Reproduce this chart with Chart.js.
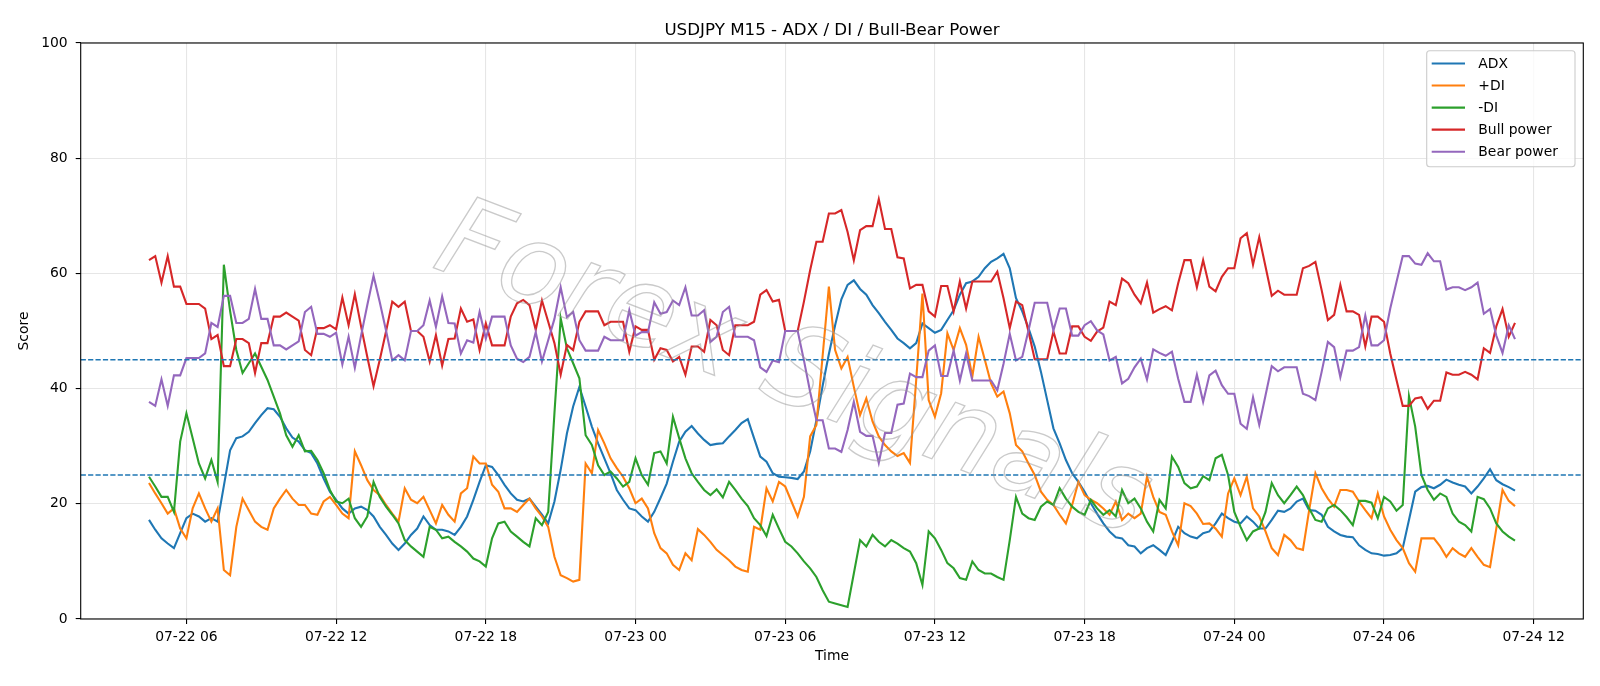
<!DOCTYPE html>
<html>
<head>
<meta charset="utf-8">
<script src="https://cdn.jsdelivr.net/npm/chart.js@4.4.1/dist/chart.umd.min.js"></script>
<style>
  html, body { margin: 0; padding: 0; background: #fff; }
  #wrap { width: 1600px; height: 686px; position: relative; }
</style>
</head>
<body>
<div id="wrap"><canvas id="chart"></canvas></div>
<script>
// M15 bars, first bar 07-22 04:30 (hours counted from 07-22 00:00)
const startHour = 4.5;
const stepHours = 0.25;

const adx = [17.2,15.5,14.0,13.1,12.3,14.9,17.5,18.3,17.8,16.9, 17.5,16.9,23.1,29.3,31.4,31.7,32.5,34.0,35.4,36.6,
  36.4,35.1,33.1,31.5,30.8,29.3,28.8,27.0,24.4,22.1, 20.7,19.2,18.3,19.2,19.5,18.9,17.8,16.0,14.6,13.1,
  12.0,13.1,14.6,15.7,17.8,16.3,15.5,15.5,15.2,14.6, 16.0,17.8,20.7,23.8,26.7,26.4,25.0,23.3,21.8,20.7,
  20.4,20.9,19.5,18.1,16.6,20.4,25.9,32.2,36.9,40.3, 36.9,33.4,30.5,27.9,25.3,22.4,20.7,19.2,18.9,17.8,
  16.9,18.6,21.0,23.5,27.3,30.8,32.5,33.5,32.2,31.1, 30.2,30.4,30.5,31.7,32.8,34.0,34.7,31.4,28.2,27.3,
  25.3,24.7,24.6,24.5,24.3,25.6,29.1,34.5,40.5,46.0, 51.0,55.5,58.0,58.8,57.3,56.3,54.5,53.1,51.6,50.2,
  48.7,47.9,47.0,47.9,51.3,50.5,49.7,50.2,51.9,53.6, 56.3,58.3,58.6,59.4,60.9,62.0,62.6,63.4,60.9,55.7,
  53.4,50.5,47.3,42.9,38.0,33.1,30.5,27.6,25.3,23.8, 22.1,20.1,18.3,16.6,15.2,14.2,14.0,12.8,12.6,11.4,
  12.3,12.8,12.0,11.1,13.4,16.0,14.9,14.3,14.0,14.9, 15.2,16.6,18.3,17.5,16.9,16.6,17.8,16.9,15.7,15.7,
  17.2,18.8,18.6,19.2,20.4,20.9,18.9,18.8,18.1,16.0, 15.2,14.6,14.3,14.2,12.8,12.0,11.4,11.3,11.0,11.1,
  11.4,12.3,17.2,22.1,22.9,23.1,22.7,23.3,24.2,23.7, 23.3,23.0,21.8,23.0,24.4,26.0,24.1,23.4,22.9,22.3];

const plusDi = [23.6,21.8,20.1,18.3,19.2,15.7,14.0,19.2,21.8,19.2, 16.9,19.2,8.5,7.6,16.0,20.9,18.9,16.9,16.0,15.5,
  19.2,20.9,22.4,20.9,19.8,19.8,18.3,18.1,20.4,21.2, 19.8,18.3,17.5,29.1,26.7,24.1,22.4,21.5,19.8,18.3,
  16.9,22.7,20.7,20.1,21.2,18.9,16.6,19.8,18.1,16.9, 21.8,22.7,28.2,27.0,27.0,23.3,22.1,19.2,19.2,18.6,
  19.8,20.9,19.2,17.8,16.0,10.8,7.6,7.1,6.5,6.8, 27.0,25.3,32.8,30.5,27.9,26.2,24.7,22.7,20.1,20.9,
  19.2,14.9,12.3,11.4,9.4,8.5,11.4,10.2,15.6,14.6, 13.4,12.0,11.1,10.2,9.1,8.5,8.2,16.0,15.5,22.7,
  20.4,23.8,23.0,20.4,17.8,21.2,31.7,33.7,45.7,57.7, 46.7,43.5,45.5,40.3,35.4,38.3,34.3,31.7,30.2,29.1,
  28.3,28.8,27.1,41.5,56.5,38.0,35.1,39.2,49.6,46.7, 50.5,47.6,42.1,49.0,45.0,40.9,38.6,39.5,35.7,30.2,
  29.1,27.0,25.0,22.1,20.7,19.8,18.1,16.6,19.8,23.8, 21.5,20.7,20.1,19.2,18.1,20.4,17.2,18.3,17.5,18.3,
  24.7,21.2,18.6,18.1,15.2,12.8,20.1,19.6,18.3,16.5, 16.6,15.7,14.3,21.8,24.4,21.5,24.7,19.2,17.8,15.2,
  12.3,11.1,14.6,13.7,12.3,12.0,18.9,25.3,22.7,20.9, 19.5,22.4,22.4,22.1,20.4,18.9,17.5,21.8,17.8,15.5,
  13.7,12.3,9.7,8.2,14.0,14.0,14.0,12.6,10.8,12.3, 11.4,10.8,12.3,10.8,9.4,9.0,15.7,22.4,20.5,19.6];

const minusDi = [24.7,23.0,21.2,21.2,18.6,30.8,35.7,31.4,27.0,24.4, 27.6,23.8,61.5,53.5,46.7,42.7,44.4,46.1,43.8,41.5,
  38.6,35.7,31.9,29.9,31.9,29.1,29.2,27.6,25.3,22.4, 20.4,20.1,20.9,17.5,16.0,17.8,23.8,21.2,19.5,18.1,
  16.6,13.7,12.6,11.7,10.8,16.0,15.5,14.0,14.3,13.4, 12.6,11.7,10.5,10.0,9.1,14.0,16.6,16.9,15.2,14.3,
  13.4,12.6,17.5,16.3,18.6,35.7,52.2,47.0,44.4,41.8, 31.9,30.2,26.7,25.0,25.6,24.4,23.0,23.8,27.9,25.0,
  23.3,28.8,29.1,27.0,35.1,31.4,27.9,25.3,23.8,22.4, 21.5,22.5,21.1,23.8,22.4,20.9,19.6,17.5,16.3,14.4,
  18.1,15.7,13.4,12.6,11.4,10.0,8.8,7.3,5.0,3.0, 2.7,2.4,2.1,7.9,13.7,12.6,14.6,13.4,12.6,13.7,
  13.1,12.3,11.7,9.7,5.9,15.2,14.0,12.0,9.7,8.8, 7.1,6.8,10.0,8.5,7.9,7.9,7.3,6.8,13.7,21.2,
  18.3,17.5,17.2,19.5,20.4,19.8,22.7,20.9,19.5,18.6, 18.1,20.7,19.2,18.1,18.9,17.8,22.4,20.1,20.9,19.2,
  16.9,15.2,20.7,19.2,28.2,26.4,23.6,22.7,23.0,24.8, 24.1,27.9,28.5,25.0,18.6,16.0,13.7,15.2,15.7,18.6,
  23.6,21.5,20.1,21.5,23.0,21.5,19.2,17.2,16.9,19.2, 19.8,18.9,17.7,16.3,20.5,20.5,20.2,17.5,21.2,20.4,
  18.8,19.8,38.7,33.4,25.0,22.4,20.7,21.8,21.2,18.3, 16.9,16.3,15.2,21.2,20.8,19.2,16.6,15.2,14.3,13.6];

const bullPower = [62.3,63.0,58.4,63.0,57.7,57.7,54.7,54.7,54.7,53.9, 48.6,49.3,43.9,43.9,48.6,48.6,47.9,42.7,47.9,47.9,
  52.5,52.5,53.2,52.5,51.8,46.7,45.8,50.5,50.5,51.0, 50.3,55.8,51.0,56.4,50.8,45.5,40.4,45.0,49.9,55.1,
  54.2,55.1,50.0,50.0,49.0,44.7,49.3,44.0,48.6,48.7, 53.9,51.6,52.0,46.7,51.3,47.5,47.5,47.5,52.5,54.8,
  55.4,54.5,50.2,55.3,51.6,47.9,42.4,47.6,46.7,51.6, 53.4,53.4,53.4,51.0,51.6,51.6,51.6,46.4,50.8,50.2,
  50.2,45.0,47.0,46.7,44.7,45.5,42.4,47.3,47.3,46.4, 51.9,51.0,46.7,45.8,51.0,51.0,51.0,51.6,56.3,57.1,
  55.1,55.4,50.0,50.0,50.0,55.1,60.6,65.5,65.5,70.4, 70.4,71.0,67.2,62.3,67.5,68.2,68.2,72.9,67.7,67.7,
  62.8,62.6,57.4,58.0,58.0,53.4,52.5,57.8,57.8,53.4, 58.6,53.9,58.6,58.6,58.6,58.6,60.3,55.7,50.5,55.1,
  54.5,49.9,45.1,45.1,45.1,49.9,46.1,46.1,50.8,50.8, 49.0,48.3,49.9,50.6,55.1,54.5,59.1,58.3,56.3,54.8,
  58.4,53.2,53.8,54.3,53.6,58.3,62.3,62.3,57.6,62.3, 57.7,56.9,59.4,60.9,60.9,66.1,67.0,61.5,66.3,61.2,
  56.1,57.0,56.3,56.3,56.3,60.9,61.3,62.0,57.1,51.9, 52.8,58.0,53.4,53.4,52.8,47.3,52.5,52.5,51.6,46.1,
  41.5,37.0,37.0,38.3,38.5,36.5,37.9,37.9,42.8,42.4, 42.4,42.9,42.4,41.6,47.0,46.2,50.8,53.8,49.0,51.4];

const bearPower = [37.7,37.0,41.6,37.0,42.3,42.3,45.3,45.3,45.3,46.1, 51.4,50.7,56.1,56.1,51.4,51.4,52.1,57.3,52.1,52.1,
  47.5,47.5,46.8,47.5,48.2,53.3,54.2,49.5,49.5,49.0, 49.7,44.2,49.0,43.6,49.2,54.5,59.6,55.0,50.1,44.9,
  45.8,44.9,50.0,50.0,51.0,55.3,50.7,56.0,51.4,51.3, 46.1,48.4,48.0,53.3,48.7,52.5,52.5,52.5,47.5,45.2,
  44.6,45.5,49.8,44.7,48.4,52.1,57.6,52.4,53.3,48.4, 46.6,46.6,46.6,49.0,48.4,48.4,48.4,53.6,49.2,49.8,
  49.8,55.0,53.0,53.3,55.3,54.5,57.6,52.7,52.7,53.6, 48.1,49.0,53.3,54.2,49.0,49.0,49.0,48.4,43.7,42.9,
  44.9,44.6,50.0,50.0,50.0,44.9,39.4,34.5,34.5,29.6, 29.6,29.0,32.8,37.7,32.5,31.8,31.8,27.1,32.3,32.3,
  37.2,37.4,42.6,42.0,42.0,46.6,47.5,42.2,42.2,46.6, 41.4,46.1,41.4,41.4,41.4,41.4,39.7,44.3,49.5,44.9,
  45.5,50.1,54.9,54.9,54.9,50.1,53.9,53.9,49.2,49.2, 51.0,51.7,50.1,49.4,44.9,45.5,40.9,41.7,43.7,45.2,
  41.6,46.8,46.2,45.7,46.4,41.7,37.7,37.7,42.4,37.7, 42.3,43.1,40.6,39.1,39.1,33.9,33.0,38.5,33.7,38.8,
  43.9,43.0,43.7,43.7,43.7,39.1,38.7,38.0,42.9,48.1, 47.2,42.0,46.6,46.6,47.2,52.7,47.5,47.5,48.4,53.9,
  58.5,63.0,63.0,61.7,61.5,63.5,62.1,62.1,57.2,57.6, 57.6,57.1,57.6,58.4,53.0,53.8,49.2,46.2,51.0,48.6];

const tickHours = [6, 12, 18, 24, 30, 36, 42, 48, 54, 60];
const tickLabels = ['07-22 06', '07-22 12', '07-22 18', '07-23 00', '07-23 06',
  '07-23 12', '07-23 18', '07-24 00', '07-24 06', '07-24 12'];
const levels = [45, 25];
const seriesNames = ['ADX', '+DI', '-DI', 'Bull power', 'Bear power'];
const seriesColors = ['#1f77b4', '#ff7f0e', '#2ca02c', '#d62728', '#9467bd'];
const seriesValues = [adx, plusDi, minusDi, bullPower, bearPower];

const FONT = 'DejaVu Sans';
Chart.defaults.font.family = FONT;
Chart.defaults.color = '#000';

// matplotlib-like margins: 5% of the time span on each side
const lastHour = startHour + (adx.length - 1) * stepHours;
const span = lastHour - startHour;
const xMin = startHour - span * 0.05;
const xMax = lastHour + span * 0.05;

const datasets = seriesValues.map((vals, k) => ({
  label: seriesNames[k],
  data: vals.map((v, i) => ({ x: startHour + i * stepHours, y: v })),
  borderColor: seriesColors[k],
  backgroundColor: seriesColors[k],
  borderWidth: 2.1,
  pointRadius: 0,
  tension: 0,
  fill: false,
  order: 5 - k
}));

const decor = {
  id: 'decor',
  afterDatasetsDraw(chart) {
    const { ctx, chartArea: a, scales: { y } } = chart;
    ctx.save();
    ctx.beginPath();
    ctx.rect(a.left, a.top, a.right - a.left, a.bottom - a.top);
    ctx.clip();
    // threshold lines
    ctx.strokeStyle = '#1f77b4';
    ctx.lineWidth = 1.4;
    ctx.setLineDash([5.2, 2.2]);
    levels.forEach(v => {
      const py = y.getPixelForValue(v);
      ctx.beginPath();
      ctx.moveTo(a.left, py);
      ctx.lineTo(a.right, py);
      ctx.stroke();
    });
    ctx.setLineDash([]);
    // watermark
    ctx.translate(792, 374);
    ctx.rotate(21 * Math.PI / 180);
    ctx.font = 'italic 112px ' + FONT;
    ctx.textAlign = 'center';
    ctx.textBaseline = 'middle';
    ctx.strokeStyle = 'rgba(150,150,150,0.5)';
    ctx.lineWidth = 1.3;
    ctx.strokeText('Forex Signals', 0, 0);
    ctx.restore();
  },
  afterDraw(chart) {
    const { ctx, chartArea: a } = chart;
    ctx.save();
    // spines
    ctx.strokeStyle = '#000';
    ctx.lineWidth = 1.1;
    ctx.strokeRect(a.left, a.top, a.right - a.left, a.bottom - a.top);
    // title
    ctx.fillStyle = '#000';
    ctx.font = '16.7px ' + FONT;
    ctx.textAlign = 'center';
    ctx.textBaseline = 'alphabetic';
    ctx.fillText('USDJPY M15 - ADX / DI / Bull-Bear Power', (a.left + a.right) / 2, 34.5);
    // legend box
    const bx = 1426.7, by = 50.7, bw = 148.3, bh = 116, r = 3;
    ctx.beginPath();
    ctx.moveTo(bx + r, by);
    ctx.arcTo(bx + bw, by, bx + bw, by + bh, r);
    ctx.arcTo(bx + bw, by + bh, bx, by + bh, r);
    ctx.arcTo(bx, by + bh, bx, by, r);
    ctx.arcTo(bx, by, bx + bw, by, r);
    ctx.closePath();
    ctx.fillStyle = 'rgba(255,255,255,0.8)';
    ctx.fill();
    ctx.strokeStyle = '#cccccc';
    ctx.lineWidth = 1.1;
    ctx.stroke();
    ctx.font = '13.9px ' + FONT;
    ctx.textAlign = 'left';
    ctx.textBaseline = 'middle';
    seriesNames.forEach((name, k) => {
      const cy = 63.5 + k * 22.05;
      ctx.strokeStyle = seriesColors[k];
      ctx.lineWidth = 2.1;
      ctx.beginPath();
      ctx.moveTo(1431.7, cy);
      ctx.lineTo(1465, cy);
      ctx.stroke();
      ctx.fillStyle = '#000';
      ctx.fillText(name, 1478.3, cy + 0.5);
    });
    ctx.restore();
  }
};

new Chart(document.getElementById('chart'), {
  type: 'line',
  data: { datasets: datasets },
  options: {
    responsive: true,
    maintainAspectRatio: false,
    animation: false,
    devicePixelRatio: 1,
    layout: { padding: { left: 0, right: 16.7, top: 43, bottom: 0 } },
    plugins: {
      legend: { display: false },
      title: { display: false },
      tooltip: { enabled: false }
    },
    scales: {
      x: {
        type: 'linear',
        min: xMin,
        max: xMax,
        afterFit(scale) { scale.height = 67; },
        afterBuildTicks(scale) { scale.ticks = tickHours.map(h => ({ value: h })); },
        ticks: {
          autoSkip: false,
          maxRotation: 0,
          padding: 5,
          font: { size: 13.9 },
          color: '#000',
          callback: (value, index) => tickLabels[index]
        },
        grid: { color: '#e6e6e6', lineWidth: 1.1, tickColor: '#000', tickLength: 5, tickWidth: 1.1 },
        border: { display: false },
        title: { display: true, text: 'Time', font: { size: 13.9 }, color: '#000', padding: { top: 0, bottom: 21.5 } }
      },
      y: {
        min: 0,
        max: 100,
        afterFit(scale) { scale.width = 80.7; },
        ticks: { stepSize: 20, padding: 8, font: { size: 13.9 }, color: '#000' },
        grid: { color: '#e6e6e6', lineWidth: 1.1, tickColor: '#000', tickLength: 5, tickWidth: 1.1 },
        border: { display: false },
        title: { display: true, text: 'Score', font: { size: 13.9 }, color: '#000', padding: { top: 16, bottom: 0 } }
      }
    }
  },
  plugins: [decor]
});
</script>
</body>
</html>
